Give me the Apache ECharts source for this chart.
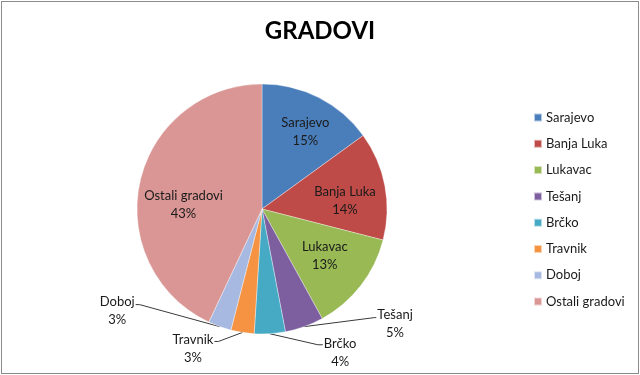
<!DOCTYPE html>
<html><head><meta charset="utf-8">
<script src="https://cdn.jsdelivr.net/npm/echarts@6/dist/echarts.min.js"></script>
<style>
html,body{margin:0;padding:0;background:#fff;}
#c{position:absolute;left:0;top:0;width:640px;height:375px;}
#b{position:absolute;left:1px;top:1px;width:636px;height:371px;border:1px solid #8c8c8c;pointer-events:none;}
</style></head><body>
<div id="c"></div><div id="b"></div>
<script>
var titleText = 'GRADOVI';
var categories = ['Sarajevo', 'Banja Luka', 'Lukavac', 'Tešanj', 'Brčko', 'Travnik', 'Doboj', 'Ostali gradovi'];
var values = [15, 14, 13, 5, 4, 3, 3, 43];
var colors = ['#4A7EBB', '#BE4B48', '#98B954', '#7D5FA0', '#46AAC5', '#F59343', '#A7B9E0', '#D99694'];
var outsideItems = ['Tešanj', 'Brčko', 'Travnik', 'Doboj'];

// label line offsets relative to the slice edge point (style only)
var lineOffsets = {
  'Tešanj':  {elbow: [70, -9], end: [72, -9], side: 'right', top: -12},
  'Brčko':   {elbow: [48, 11], end: [53, 11], side: 'right', top: -10},
  'Travnik': {elbow: [-24, 9], end: [-28, 9], side: 'left', top: -11},
  'Doboj':   {elbow: [-80, -22], end: [-84, -22], side: 'left', top: -12}
};
// nudges for inside labels (style only)
var insideNudge = {
  'Sarajevo': [5, -2], 'Banja Luka': [0, 8], 'Lukavac': [-4, -5], 'Ostali gradovi': [4, 14]
};

var font = 'Lato, "Open Sans", sans-serif';
var chart = echarts.init(document.getElementById('c'), null, {renderer: 'canvas'});

var visData = categories.map(function (n, i) {
  var out = outsideItems.indexOf(n) >= 0;
  return {name: n, value: values[i], itemStyle: {color: colors[i]},
    label: {show: out}, labelLine: {show: out}};
});
var overlayData = categories.map(function (n, i) {
  var out = outsideItems.indexOf(n) >= 0;
  return {name: n, value: values[i], label: {show: !out}};
});

chart.setOption({
  animation: false,
  title: {text: titleText, left: 'center', top: 14,
    textStyle: {fontFamily: font, fontSize: 24, fontWeight: 'bold', color: '#000'}},
  legend: {
    orient: 'vertical', left: 528, top: 106,
    itemWidth: 8, itemHeight: 8, itemGap: 13.3,
    icon: 'rect', data: categories,
    textStyle: {fontFamily: font, fontSize: 13, color: '#1a1a1a', padding: [0, 0, 0, -1]}
  },
  series: [{
    type: 'pie', center: [262, 209], radius: [0, 125],
    startAngle: 90, clockwise: true, silent: true,
    itemStyle: {borderColor: 'rgba(255,255,255,0.6)', borderWidth: 0.6},
    label: {position: 'outside', formatter: '{b}\n{c}%', fontFamily: font, fontSize: 13,
      color: '#1a1a1a', lineHeight: 18, align: 'center'},
    labelLine: {lineStyle: {color: '#3a3a3a', width: 1}, length: 10, length2: 10},
    labelLayout: function (p) {
      var name = categories[p.dataIndex];
      var o = lineOffsets[name];
      if (!o || !p.labelLinePoints) return {};
      var s = p.labelLinePoints[0];
      var e1 = [s[0] + o.elbow[0], s[1] + o.elbow[1]];
      var e2 = [s[0] + o.end[0], s[1] + o.end[1]];
      var w = p.labelRect.width;
      var x = o.side === 'right' ? e2[0] + 1 + w / 2 : e2[0] - 1 - w / 2;
      return {x: x, y: e2[1] + o.top, align: 'center', verticalAlign: 'top',
        labelLinePoints: [s, e1, e2]};
    },
    data: visData
  }, {
    type: 'pie', center: [262, 209], radius: [38, 125],
    startAngle: 90, clockwise: true, silent: true, legendHoverLink: false,
    itemStyle: {color: 'rgba(0,0,0,0)'},
    label: {position: 'inside', formatter: '{b}\n{c}%', fontFamily: font, fontSize: 13,
      color: '#1a1a1a', lineHeight: 18},
    labelLine: {show: false},
    labelLayout: function (p) {
      var n = insideNudge[categories[p.dataIndex]];
      return n ? {dx: n[0], dy: n[1]} : {};
    },
    data: overlayData
  }]
});
</script>
</body></html>
